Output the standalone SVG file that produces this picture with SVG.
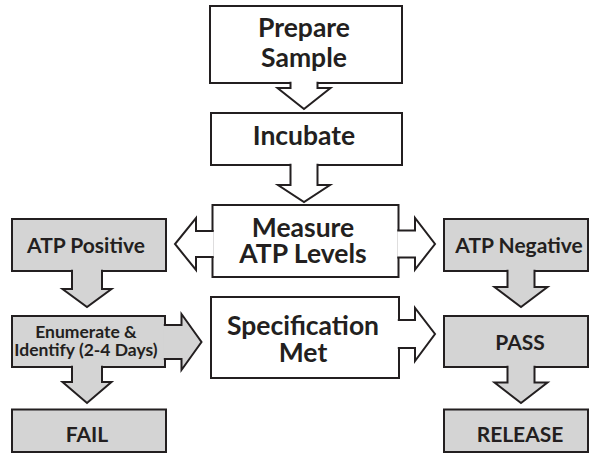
<svg xmlns="http://www.w3.org/2000/svg" width="592" height="462" viewBox="0 0 592 462">
<style>
.box{fill:#fff;stroke:#231f20;stroke-width:2}
.gbox{fill:#d4d4d4;stroke:#231f20;stroke-width:2}
.arw{fill:#fff;stroke:#231f20;stroke-width:2;stroke-linejoin:miter}
.garw{fill:#d4d4d4;stroke:#231f20;stroke-width:2;stroke-linejoin:miter}
text{font-family:Lato,"Liberation Sans",sans-serif;font-weight:bold;fill:#231f20;text-anchor:middle}
.big{font-size:26.5px}
.mid{font-size:21px}
.sml{font-size:17.5px}
</style>
<rect width="592" height="462" fill="#fff"/>
<g id="nodes">
<g id="prepare"><rect class="box" x="210" y="6" width="192" height="77"/><text class="big" x="304" y="37">Prepare</text><text class="big" x="304" y="67">Sample</text></g>
<g id="incubate"><rect class="box" x="211" y="113" width="191" height="52"/><text class="big" x="304" y="145">Incubate</text></g>
<g id="measure"><rect class="box" x="212.5" y="205" width="186" height="72"/><text class="big" x="303" y="237">Measure</text><text class="big" x="303" y="263">ATP Levels</text></g>
<g id="spec"><rect class="box" x="211" y="297" width="188" height="81"/><text class="big" x="303" y="335">Specification</text><text class="big" x="303" y="362">Met</text></g>
<g id="atppos"><rect class="gbox" x="12" y="219" width="154" height="52"/><text class="mid" x="86" y="253">ATP Positive</text></g>
<g id="atpneg"><rect class="gbox" x="444" y="219" width="144" height="52"/><text class="mid" x="519" y="253">ATP Negative</text></g>
<g id="enum"><rect class="gbox" x="12" y="316" width="153" height="51"/><text class="sml" x="86" y="338">Enumerate &amp;</text><text class="sml" x="86" y="356">Identify (2-4 Days)</text></g>
<g id="pass"><rect class="gbox" x="444" y="316" width="144" height="51"/><text class="mid" x="520" y="350">PASS</text></g>
<g id="fail"><rect class="gbox" x="12" y="409.5" width="154" height="42.5"/><text class="mid" x="87" y="442">FAIL</text></g>
<g id="release"><rect class="gbox" x="444" y="409.5" width="144" height="42.5"/><text class="mid" x="520" y="442">RELEASE</text></g>
</g>
<g id="connectors">
<path class="arw" d="M290.5,81.8 V88 H277.5 L304,109 L330.5,88 H317.5 V81.8"/>
<path class="arw" d="M290.5,163.8 V185 H278 L304,202 L330,185 H317.5 V163.8"/>
<path class="arw" d="M213.7,231 H196 V218 L175,244 L196,270 V257 H213.7"/>
<path class="arw" d="M397.3,230.5 H415 V218 L435,244 L415,269.5 V257.5 H397.3"/>
<path class="arw" d="M397.8,320 H415 V308 L435,334 L415,361 V348 H397.8"/>
<path class="garw" d="M72,269.8 V289 H62.5 L87,307 L111.5,289 H102 V269.8"/>
<path class="garw" d="M163.8,325 H181.5 V314 L201.5,342 L181.5,370 V359 H163.8"/>
<path class="garw" d="M72,365.8 V382 H62.5 L87,403 L111.5,382 H102 V365.8"/>
<path class="garw" d="M507.5,269.8 V287 H494.5 L521,307 L547.5,287 H534.5 V269.8"/>
<path class="garw" d="M507.5,365.8 V382.5 H494.5 L521,403 L547.5,382.5 H534.5 V365.8"/>
</g>
</svg>
